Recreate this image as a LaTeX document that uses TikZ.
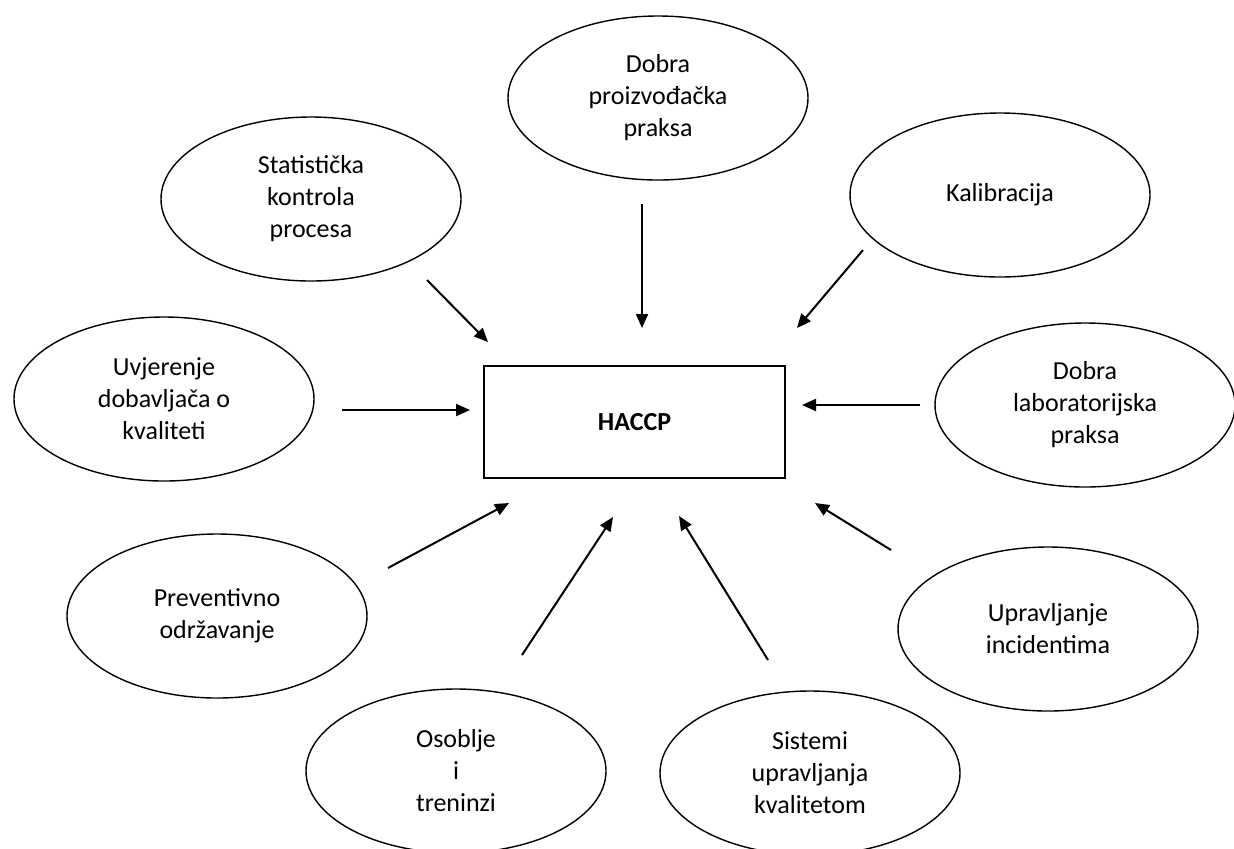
\documentclass[tikz,border=0pt]{standalone}
\usepackage{fontspec}
\setmainfont{Carlito}
\usetikzlibrary{shapes.geometric,arrows.meta}

\begin{document}
\begin{tikzpicture}[
  x=0.5pt,y=-0.5pt,
  every node/.style={font=\fontsize{13}{16}\selectfont,align=center},
  oval/.style={draw,ellipse,line width=0.7pt,minimum width=150pt,minimum height=82pt,inner sep=0pt},
  hbox/.style={draw,rectangle,line width=0.8pt,minimum width=150.5pt,minimum height=56pt,font=\fontsize{13}{16}\selectfont\bfseries},
  arr/.style={line width=1pt,-{Triangle[length=7pt,width=6pt]}}
]
\useasboundingbox (0,0) rectangle (1234,848);

% Centre
\node[hbox] (haccp) at (634.5,422) {HACCP};

% Surrounding ovals
\node[oval] (gmp) at (658,98) {Dobra\\proizvođačka\\praksa};
\node[oval] (spc) at (311,199) {Statistička\\kontrola\\procesa};
\node[oval] (kal) at (1000,195) {Kalibracija};
\node[oval] (dob) at (164,399) {Uvjerenje\\dobavljača o\\kvaliteti};
\node[oval] (glp) at (1085,405) {Dobra\\laboratorijska\\praksa};
\node[oval] (odr) at (217,616) {Preventivno\\održavanje};
\node[oval] (osb) at (456,771) {Osoblje\\i\\treninzi};
\node[oval] (sqm) at (810,773) {Sistemi\\upravljanja\\kvalitetom};
\node[oval] (inc) at (1048,629) {Upravljanje\\incidentima};

% Arrow ends
\coordinate (spc-a) at (427,280);  \coordinate (spc-b) at (488,342);
\coordinate (gmp-a) at (642,204);  \coordinate (gmp-b) at (642,328);
\coordinate (kal-a) at (863,250);  \coordinate (kal-b) at (797,328);
\coordinate (dob-a) at (342,410);  \coordinate (dob-b) at (470,410);
\coordinate (glp-a) at (920,405);  \coordinate (glp-b) at (802,405);
\coordinate (odr-a) at (388,568);  \coordinate (odr-b) at (509,503);
\coordinate (osb-a) at (522,655);  \coordinate (osb-b) at (613,517);
\coordinate (sqm-a) at (768,660);  \coordinate (sqm-b) at (679,516);
\coordinate (inc-a) at (891,550);  \coordinate (inc-b) at (815,503);

% Arrows
\foreach \n in {spc,gmp,kal,dob,glp,odr,osb,sqm,inc}
  \draw[arr] (\n-a) -- (\n-b);
\end{tikzpicture}
\end{document}
